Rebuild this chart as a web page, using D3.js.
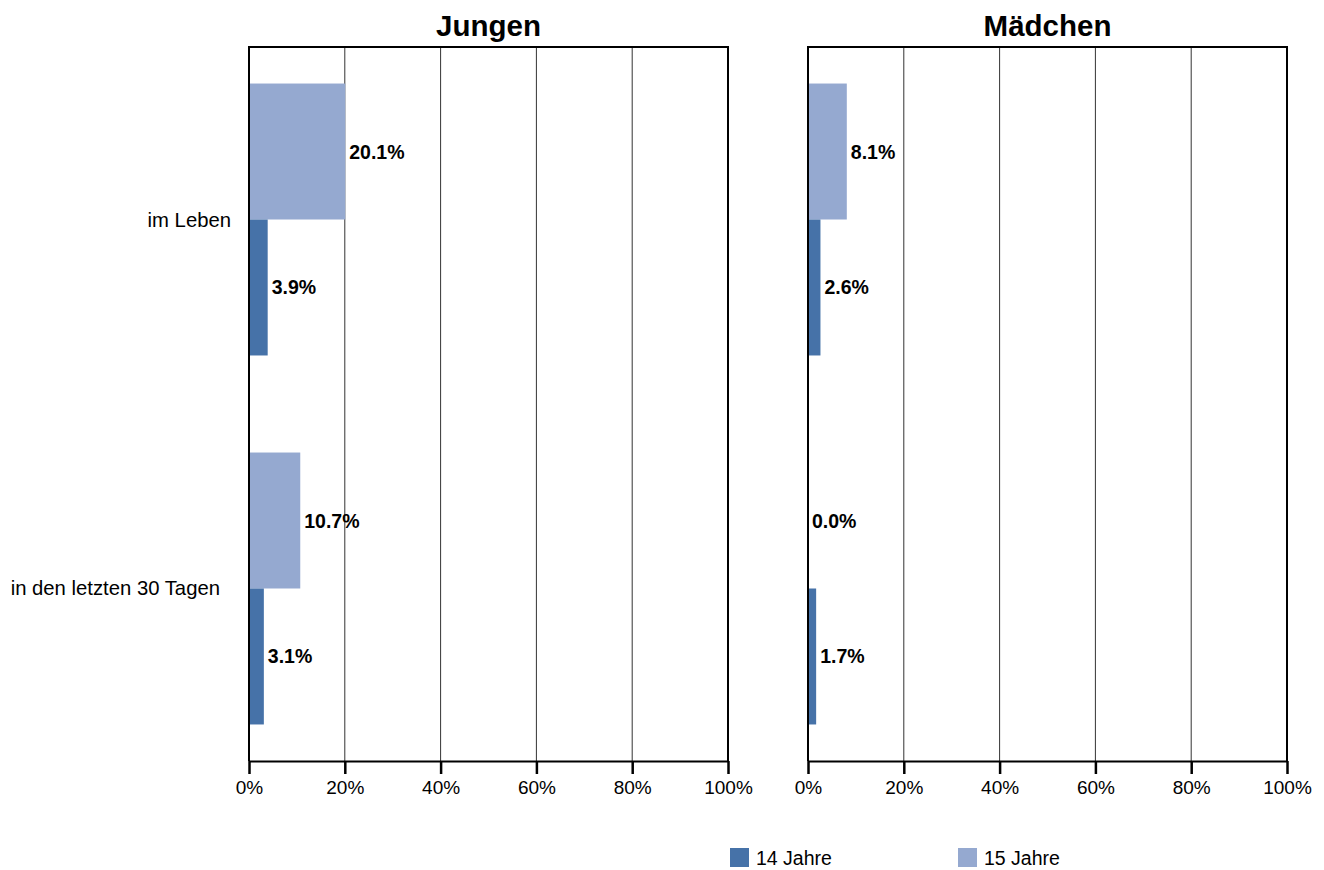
<!DOCTYPE html>
<html>
<head>
<meta charset="utf-8">
<script src="https://cdn.jsdelivr.net/npm/d3@7"></script>
<style>
  html, body { margin: 0; padding: 0; background: #fff; }
  svg { display: block; font-family: "Liberation Sans", Arial, sans-serif; }
</style>
</head>
<body>
<svg id="chart" width="1324" height="870"></svg>
<script>
// ---- data ----
const categories = ["im Leben", "in den letzten 30 Tagen"];
const seriesNames = ["14 Jahre", "15 Jahre"];
const panelTitles = ["Jungen", "Mädchen"];
const jungen14 = [3.9, 3.1];
const jungen15 = [20.1, 10.7];
const maedchen14 = [2.6, 1.7];
const maedchen15 = [8.1, 0.0];
const xTicks = [0, 20, 40, 60, 80, 100];
const xTickLabels = ["0%", "20%", "40%", "60%", "80%", "100%"];

// ---- layout ----
const colors = { "14 Jahre": "#4672a8", "15 Jahre": "#95a9d0" };
const plotTop = 47, plotBottom = 761;
const panelRanges = [[249, 728], [808, 1287]];
const catLabelRight = [231, 220];
const svg = d3.select("#chart");

const panelData = [
  { title: panelTitles[0], s14: jungen14, s15: jungen15 },
  { title: panelTitles[1], s14: maedchen14, s15: maedchen15 }
];

const y = d3.scaleBand().domain(categories).range([plotTop, plotBottom])
  .paddingInner(0.263).paddingOuter(0.099);
const yInner = d3.scaleBand().domain(["15 Jahre", "14 Jahre"]).range([0, y.bandwidth()]);

panelData.forEach((p, pi) => {
  const x = d3.scaleLinear().domain([0, 100]).range(panelRanges[pi]);
  const g = svg.append("g");

  // gridlines
  g.selectAll("line.grid").data(xTicks.slice(1, -1)).enter().append("line")
    .attr("x1", d => x(d)).attr("x2", d => x(d))
    .attr("y1", plotTop).attr("y2", plotBottom)
    .attr("stroke", "#333").attr("stroke-width", 1);

  // bars
  const rows = [];
  categories.forEach((c, i) => {
    rows.push({ cat: c, series: "15 Jahre", v: p.s15[i] });
    rows.push({ cat: c, series: "14 Jahre", v: p.s14[i] });
  });
  g.selectAll("rect.bar").data(rows).enter().append("rect")
    .attr("x", x(0))
    .attr("y", d => y(d.cat) + yInner(d.series))
    .attr("width", d => x(d.v) - x(0))
    .attr("height", yInner.bandwidth())
    .attr("fill", d => colors[d.series]);

  g.selectAll("text.val").data(rows).enter().append("text")
    .attr("x", d => x(d.v) + 4)
    .attr("y", d => y(d.cat) + yInner(d.series) + yInner.bandwidth() / 2)
    .attr("dominant-baseline", "central")
    .attr("font-size", "19.5px").attr("font-weight", "bold")
    .attr("fill", "#000")
    .text(d => d.v.toFixed(1) + "%");

  // frame (left, top, right)
  g.append("path")
    .attr("d", `M${x(0)},${plotBottom} V${plotTop} H${x(100)} V${plotBottom}`)
    .attr("fill", "none").attr("stroke", "#000").attr("stroke-width", 2);

  // x axis
  const axis = d3.axisBottom(x).tickValues(xTicks)
    .tickFormat((d, i) => xTickLabels[i]).tickSize(13).tickSizeOuter(0);
  const ax = g.append("g").attr("transform", `translate(0,${plotBottom})`).call(axis);
  ax.attr("font-family", null).attr("font-size", null);
  ax.select(".domain").attr("stroke", "#000").attr("stroke-width", 2);
  ax.selectAll(".tick line").attr("stroke", "#000").attr("stroke-width", 2.5);
  ax.selectAll(".tick text").attr("font-size", "19px").attr("fill", "#000")
    .attr("dy", "0.95em").attr("y", 15);

  // title
  g.append("text")
    .attr("x", (x(0) + x(100)) / 2).attr("y", 36)
    .attr("text-anchor", "middle").attr("font-size", "29.5px").attr("font-weight", "bold")
    .text(p.title);
});

// category labels
svg.selectAll("text.cat").data(categories).enter().append("text")
  .attr("x", (d, i) => catLabelRight[i])
  .attr("y", d => y(d) + y.bandwidth() / 2)
  .attr("text-anchor", "end").attr("dominant-baseline", "central")
  .attr("font-size", "20.3px").attr("fill", "#000")
  .text(d => d);

// legend
const legendX = [730, 958];
const lg = svg.selectAll("g.leg").data(seriesNames).enter().append("g")
  .attr("transform", (d, i) => `translate(${legendX[i]},848)`);
lg.append("rect").attr("width", 19).attr("height", 19).attr("fill", d => colors[d]);
lg.append("text").attr("x", 26).attr("y", 9.5).attr("dominant-baseline", "central")
  .attr("font-size", "19.5px").attr("fill", "#000").text(d => d);
</script>
</body>
</html>
